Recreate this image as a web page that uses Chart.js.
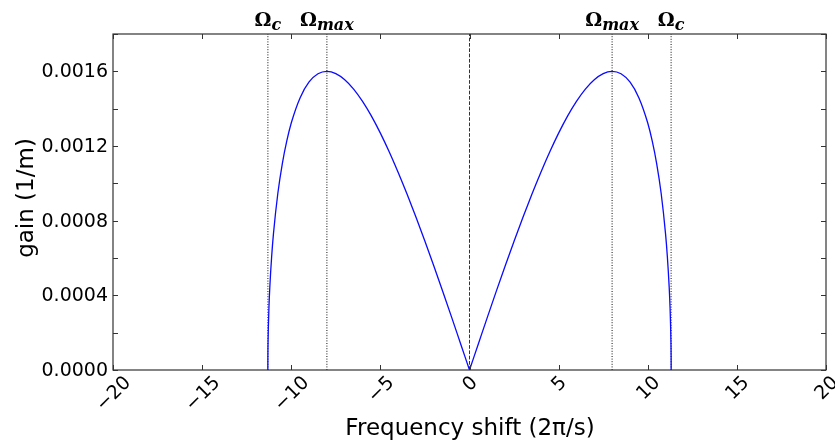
<!DOCTYPE html>
<html>
<head>
<meta charset="utf-8">
<script src="https://cdn.jsdelivr.net/npm/chart.js@4"></script>
<style>
  html, body { margin: 0; padding: 0; background: #fff; }
  #wrap { width: 835px; height: 444px; }
</style>
</head>
<body>
<div id="wrap"><canvas id="grafico" width="835" height="444"></canvas></div>
<script>
// valores
const shiftNeg = [-11.314, -11.31, -11.3, -11.25, -11.2, -11.1, -11, -10.75, -10.5, -10.25, -10, -9.5, -9, -8.5, -8, -7.5, -7, -6.5, -6, -5.5, -5, -4.5, -4, -3.5, -3, -2.5, -2, -1.5, -1, -0.5, 0];
const gainNeg = [0, 0.00008, 0.000157, 0.000337, 0.000448, 0.000607, 0.000728, 0.000948, 0.001106, 0.001227, 0.001323, 0.001459, 0.001543, 0.001587, 0.0016, 0.001588, 0.001555, 0.001505, 0.001439, 0.00136, 0.001269, 0.001168, 0.001058, 0.000941, 0.000818, 0.00069, 0.000557, 0.000421, 0.000282, 0.000141, 0];
const shiftPos = [0, 0.5, 1, 1.5, 2, 2.5, 3, 3.5, 4, 4.5, 5, 5.5, 6, 6.5, 7, 7.5, 8, 8.5, 9, 9.5, 10, 10.25, 10.5, 10.75, 11, 11.1, 11.2, 11.25, 11.3, 11.31, 11.314];
const gainPos = [0, 0.000141, 0.000282, 0.000421, 0.000557, 0.00069, 0.000818, 0.000941, 0.001058, 0.001168, 0.001269, 0.00136, 0.001439, 0.001505, 0.001555, 0.001588, 0.0016, 0.001587, 0.001543, 0.001459, 0.001323, 0.001227, 0.001106, 0.000948, 0.000728, 0.000607, 0.000448, 0.000337, 0.000157, 0.00008, 0];

// linhas verticais (Ωc, Ωmax, 0)
const markerShift = [-11.31, -8, 0, 8, 11.31];
const markerSub = ['c', 'max', '', 'max', 'c'];

const xTicks = [-20, -15, -10, -5, 0, 5, 10, 15, 20];
const yTicks = [0, 0.0002, 0.0004, 0.0006, 0.0008, 0.001, 0.0012, 0.0014, 0.0016, 0.0018];
const yLabelTicks = [0, 0.0004, 0.0008, 0.0012, 0.0016];

function metade(xs, ys) {
  return {
    data: xs.map((x, i) => ({ x: x, y: ys[i] })),
    borderColor: '#0a0aff',
    borderWidth: 1.3,
    pointRadius: 0,
    showLine: true,
    cubicInterpolationMode: 'monotone'
  };
}

const linhas = markerShift.map(x => ({
  data: [{ x: x, y: 0 }, { x: x, y: 0.0018 }],
  borderColor: x === 0 ? '#333' : '#111',
  borderWidth: 1,
  borderDash: x === 0 ? [3.7, 1.6] : [1, 1.6],
  pointRadius: 0,
  showLine: true,
  tension: 0
}));

// desenha moldura, ticks para dentro, rótulos e títulos
const eixosPlugin = {
  id: 'eixos',
  afterDraw(chart) {
    const c = chart.ctx;
    const a = chart.chartArea;
    const sx = chart.scales.x, sy = chart.scales.y;
    c.save();
    c.strokeStyle = '#333';
    c.lineWidth = 1.2;
    c.strokeRect(a.left, a.top, a.right - a.left, a.bottom - a.top);

    c.lineWidth = 1;
    c.beginPath();
    xTicks.forEach(t => {
      const px = Math.round(sx.getPixelForValue(t)) + 0.5;
      c.moveTo(px, a.bottom); c.lineTo(px, a.bottom - 5);
      c.moveTo(px, a.top); c.lineTo(px, a.top + 5);
    });
    yTicks.forEach(t => {
      const py = Math.round(sy.getPixelForValue(t)) + 0.5;
      c.moveTo(a.left, py); c.lineTo(a.left + 5, py);
      c.moveTo(a.right, py); c.lineTo(a.right - 5, py);
    });
    c.stroke();

    // rótulos do eixo y
    c.fillStyle = '#000';
    c.font = '19px "DejaVu Sans"';
    c.textAlign = 'right';
    c.textBaseline = 'middle';
    yLabelTicks.forEach(t => {
      c.fillText(t.toFixed(4), a.left - 5, sy.getPixelForValue(t) + 1);
    });

    // rótulos do eixo x, girados 45 graus
    c.textAlign = 'center';
    xTicks.forEach(t => {
      const txt = t < 0 ? '\u2212' + Math.abs(t) : String(t);
      const w = c.measureText(txt).width;
      const h = 14;
      const boxH = (w + h) * Math.SQRT1_2;
      const px = sx.getPixelForValue(t);
      c.save();
      c.translate(px + 1, a.bottom + 5 + boxH / 2);
      c.rotate(-Math.PI / 4);
      c.fillText(txt, 0, 0);
      c.restore();
    });

    // títulos
    c.font = '23px "DejaVu Sans"';
    c.textBaseline = 'alphabetic';
    c.fillText('Frequency shift (2\u03c0/s)', 470, 435);
    c.save();
    c.translate(33, 198);
    c.rotate(-Math.PI / 2);
    c.fillText('gain (1/m)', 0, 0);
    c.restore();

    // Ωc e Ωmax acima do gráfico
    markerShift.forEach((x, i) => {
      if (!markerSub[i]) return;
      c.font = 'bold 19px "DejaVu Serif"';
      const wO = c.measureText('\u03a9').width;
      c.font = 'bold italic 16px "DejaVu Serif"';
      const wS = c.measureText(markerSub[i]).width;
      const x0 = sx.getPixelForValue(x) - (wO + wS) / 2;
      c.textAlign = 'left';
      c.font = 'bold 19px "DejaVu Serif"';
      c.fillText('\u03a9', x0, 26);
      c.font = 'bold italic 16px "DejaVu Serif"';
      c.fillText(markerSub[i], x0 + wO, 30);
    });
    c.restore();
  }
};

const ctx = document.getElementById('grafico').getContext('2d');
const grafico = new Chart(ctx, {
  type: 'scatter',
  data: {
    datasets: [metade(shiftNeg, gainNeg), metade(shiftPos, gainPos)].concat(linhas)
  },
  options: {
    responsive: false,
    animation: false,
    layout: {
      padding: { left: 113, right: 9, top: 34, bottom: 74 }
    },
    scales: {
      x: { type: 'linear', min: -20, max: 20, display: false },
      y: { type: 'linear', min: 0, max: 0.0018, display: false }
    },
    plugins: {
      legend: { display: false },
      tooltip: { enabled: false }
    }
  },
  plugins: [eixosPlugin]
});
</script>
</body>
</html>
